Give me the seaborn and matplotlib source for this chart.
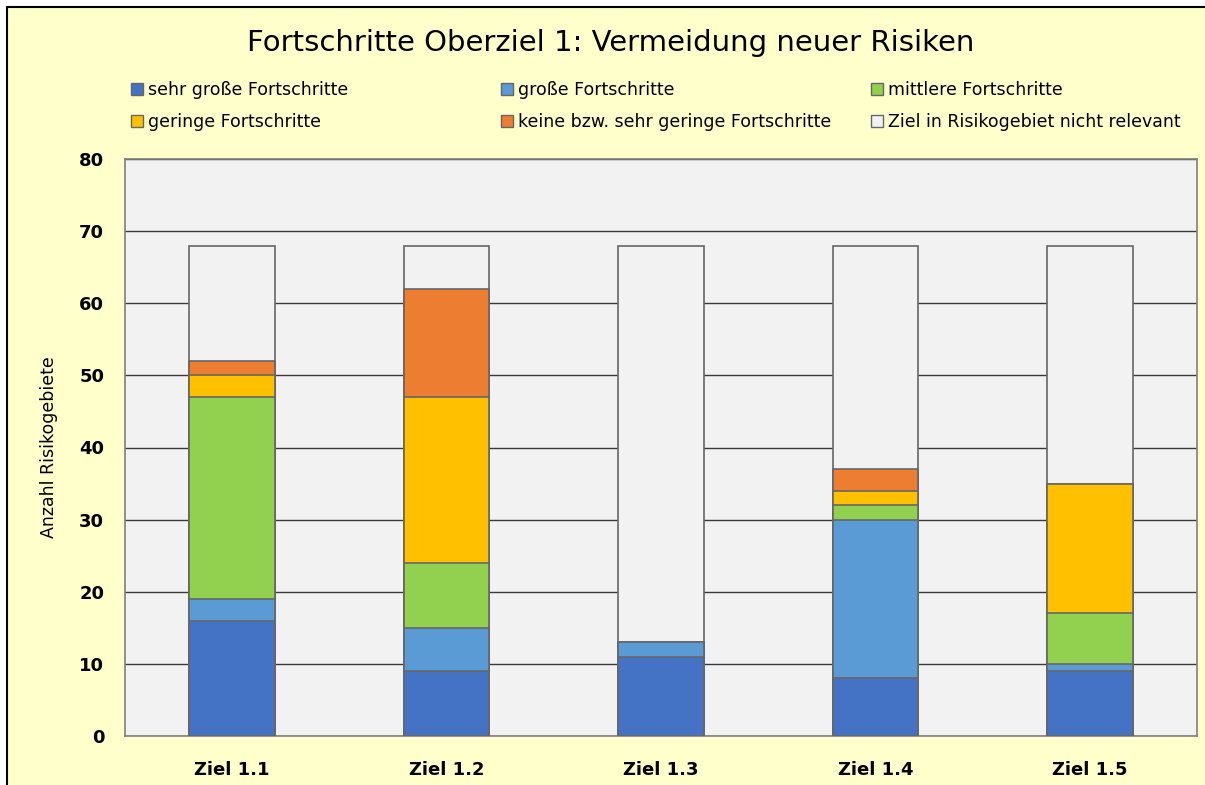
import matplotlib.pyplot as plt
import matplotlib.patches as mpatches
import numpy as np
import seaborn as sns

CATEGORIES = ["Ziel 1.1", "Ziel 1.2", "Ziel 1.3", "Ziel 1.4", "Ziel 1.5"]

SERIES = [
    "sehr große Fortschritte",
    "große Fortschritte",
    "mittlere Fortschritte",
    "geringe Fortschritte",
    "keine bzw. sehr geringe Fortschritte",
    "Ziel in Risikogebiet nicht relevant",
]

sehr_gross = [16, 9, 11, 8, 9]
gross = [3, 6, 2, 22, 1]
mittlere = [28, 9, 0, 2, 7]
geringe = [3, 23, 0, 2, 18]
keine = [2, 15, 0, 3, 0]
nicht_relevant = [16, 6, 55, 31, 33]

COLORS = ["#4472C4", "#5B9BD5", "#92D050", "#FFC000", "#ED7D31", "#F2F2F2"]

W, H = 1205, 785

sns.set_theme(style="white")
plt.rcParams["font.family"] = ["DejaVu Sans"]
plt.rcParams.update({"text.color": "black", "axes.labelcolor": "black",
                     "xtick.color": "black", "ytick.color": "black"})

fig = plt.figure(figsize=(W / 100, H / 100), dpi=100, facecolor="white")
fig.patches.append(mpatches.Rectangle(
    (7 / W, -0.05), 1.05, 1 - 7 / H + 0.05, transform=fig.transFigure,
    facecolor="#FFFFCC", edgecolor="black", linewidth=1.5, zorder=-10))

ax = fig.add_axes([125 / W, (H - 736) / H, 1072 / W, 577 / H])
ax.set_facecolor("#F2F2F2")

layers = np.array([sehr_gross, gross, mittlere, geringe, keine, nicht_relevant])
tops = layers.cumsum(axis=0)

# draw the tallest cumulative layer first, smaller ones on top of it
for i in range(len(SERIES) - 1, -1, -1):
    sns.barplot(x=CATEGORIES, y=tops[i], color=COLORS[i], width=0.4,
                edgecolor="#666666", linewidth=1.2, saturation=1,
                errorbar=None, ax=ax, zorder=3)

ax.set_ylim(0, 80)
ax.set_yticks(range(0, 81, 10))
ax.yaxis.grid(True, color="#3A3A3A", linewidth=1.0)
ax.set_axisbelow(True)
for s in ax.spines.values():
    s.set_color("#7F7F7F")
    s.set_linewidth(1.2)
ax.tick_params(axis="both", length=0, labelsize=13)
ax.tick_params(axis="y", pad=15)
ax.tick_params(axis="x", pad=18)
for lab in ax.get_xticklabels() + ax.get_yticklabels():
    lab.set_fontweight("bold")
ax.set_xlabel("")
ax.set_ylabel("Anzahl Risikogebiete", fontsize=12.5, labelpad=15)

fig.text(611 / W, 1 - 43 / H, "Fortschritte Oberziel 1: Vermeidung neuer Risiken",
         ha="center", va="center", fontsize=21)

handles = [mpatches.Patch(facecolor=c, edgecolor="#666666", linewidth=1.0) for c in COLORS]
col_x = [131, 501, 871]
for j in range(3):
    idx = [j, j + 3]
    fig.legend([handles[k] for k in idx], [SERIES[k] for k in idx],
               loc="upper left", bbox_to_anchor=(col_x[j] / W, 1 - 81 / H),
               frameon=False, fontsize=12.5, handlelength=0.7, handleheight=0.7,
               handletextpad=0.3, labelspacing=0.8, borderpad=0, borderaxespad=0)

fig.savefig("out.png", dpi=100)
